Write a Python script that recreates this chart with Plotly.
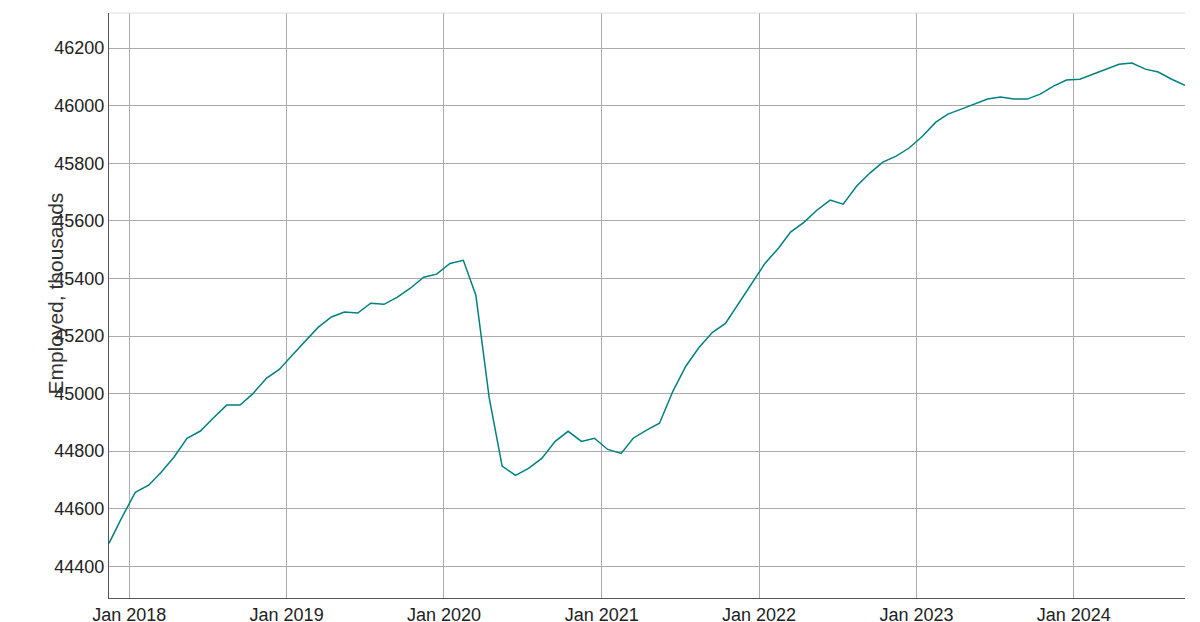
import pandas as pd
import plotly.graph_objects as go

# Monthly employment, thousands
employed = [44480, 44570, 44657, 44682, 44725, 44780, 44845, 44870, 44915, 44960,
            44960, 45000, 45053, 45084, 45135, 45185, 45230, 45266, 45283, 45280,
            45314, 45310, 45335, 45366, 45404, 45415, 45452, 45463, 45342, 44985,
            44748, 44716, 44740, 44775, 44834, 44869, 44834, 44845, 44806, 44792,
            44845, 44873, 44897, 45008, 45095, 45161, 45213, 45244, 45314, 45380,
            45453, 45505, 45561, 45595, 45637, 45672, 45658, 45720, 45766, 45804,
            45825, 45853, 45894, 45943, 45971, 45988, 46005, 46023, 46030, 46023,
            46023, 46040, 46068, 46089, 46092, 46110, 46127, 46144, 46148, 46127,
            46117, 46092, 46071]
dates = pd.date_range('2017-11-01', periods=len(employed), freq='MS') + pd.Timedelta(days=14)
y_ticks = list(range(44400, 46201, 200))

fig = go.Figure()
fig.add_trace(go.Scatter(x=dates, y=employed, mode='lines',
                         line=dict(color='#008080', width=1.5), showlegend=False))

fig.update_xaxes(range=[dates[0], dates[-1]], dtick='M12', tick0='2018-01-01',
                 tickformat='%b %Y', showgrid=True, gridcolor='#aaaaaa', gridwidth=1,
                 showline=True, linecolor='#555555', ticks='', zeroline=False,
                 automargin=False, tickfont=dict(size=18, color='#222222'))
fig.update_yaxes(range=[44290, 46322], tickvals=y_ticks, tickformat='d', showgrid=True,
                 gridcolor='#aaaaaa', gridwidth=1, showline=True, linecolor='#555555',
                 zeroline=False, automargin=False, tickfont=dict(size=18, color='#222222'))

fig.update_layout(
    width=1200, height=622,
    plot_bgcolor='white', paper_bgcolor='white',
    font=dict(family='Liberation Sans, Arial, sans-serif'),
    margin=dict(l=101, r=23, t=5, b=32),
    shapes=[dict(type='line', xref='paper', yref='paper', x0=0, x1=1, y0=1, y1=1,
                 line=dict(color='#dddddd', width=1))],
    annotations=[dict(text='Employed, thousands', xref='paper', yref='paper',
                      x=-0.062, y=0.52, textangle=-90, showarrow=False,
                      font=dict(size=21, color='#333333'))],
)

fig.write_html("out.html")
